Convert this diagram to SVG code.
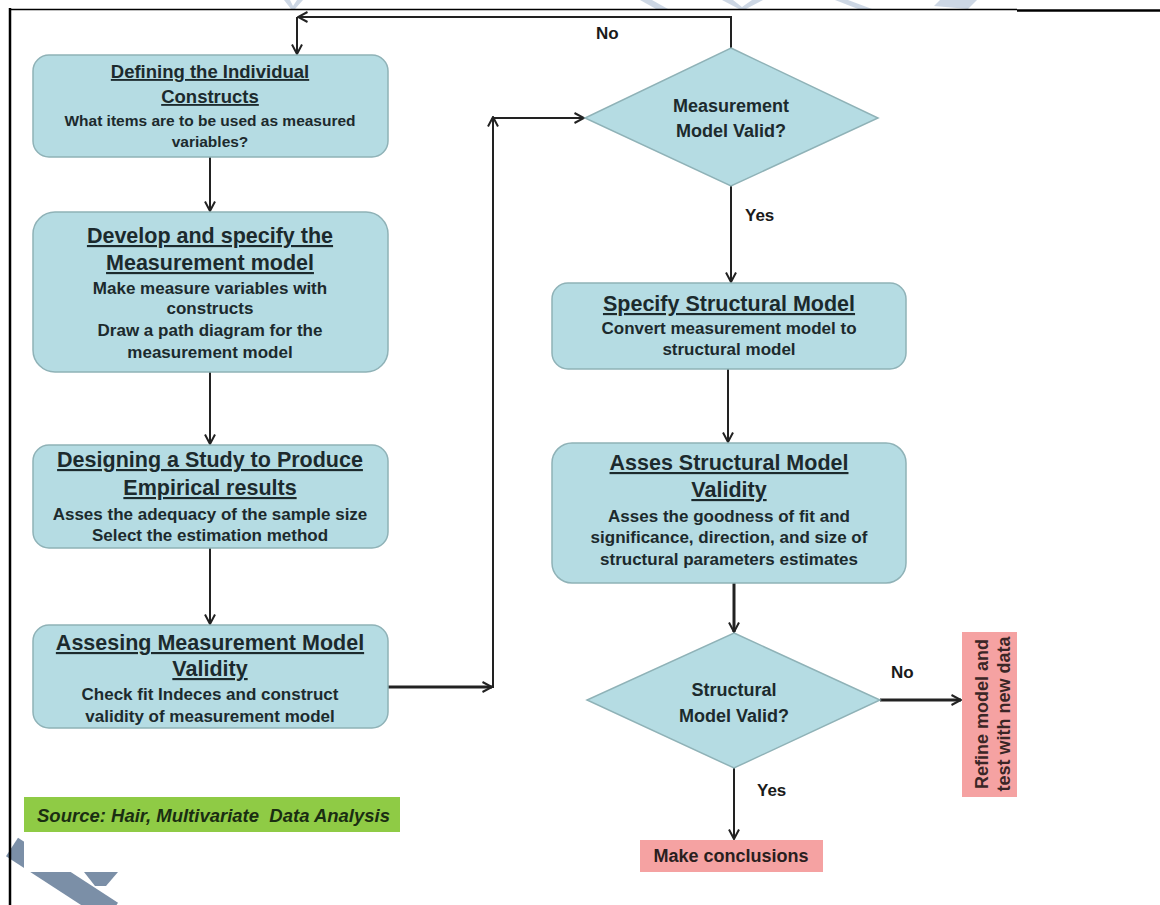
<svg xmlns="http://www.w3.org/2000/svg" width="1160" height="905" viewBox="0 0 1160 905">
<style>
.box{fill:#b5dce3;stroke:#8fb2b7;stroke-width:1.5}
.red{fill:#f5a2a2}
.t{font-family:"Liberation Sans",Arial,sans-serif;font-weight:bold;fill:#1c2a2d;text-anchor:middle}
.h{font-size:21.5px;text-decoration:underline}
.s{font-size:17px}
.d{font-size:18px}
.lbl{font-family:"Liberation Sans",Arial,sans-serif;font-weight:bold;fill:#1a1a1a;font-size:17px}
.c{fill:none;stroke:#222;stroke-width:2}
.ck{fill:none;stroke:#222;stroke-width:3}
.wm{fill:#bccadb;opacity:0.75}
</style>
<defs>
<marker id="ah" viewBox="0 0 12 12" refX="10.5" refY="6" markerWidth="12" markerHeight="12" markerUnits="userSpaceOnUse" orient="auto">
<path d="M1,1 L10.5,6 L1,11" fill="none" stroke="#222" stroke-width="2"/>
</marker>
</defs>
<rect width="1160" height="905" fill="#ffffff"/>

<g id="watermark">
<polygon class="wm" points="284,0 290,0 293,6 297,0 303,0 295,9 291,9"/>
<polygon class="wm" points="640,0 652,0 668,9 656,9"/>
<polygon class="wm" points="722,0 733,0 742,7 752,0 763,0 746,9 739,9"/>
<polygon class="wm" points="835,0 848,0 872,9 858,9"/>
<polygon class="wm" points="940,0 977,0 968,9 934,6"/>
<line x1="12" y1="847" x2="112" y2="912" stroke="#7b8fa7" stroke-width="22"/>
<rect x="24" y="833" width="110" height="39" fill="#ffffff"/>
<polygon points="84,872 118,872 106,886 95,886" fill="#7b8fa7"/>
</g>

<g id="frame">
<line x1="10" y1="8" x2="10" y2="905" stroke="#000" stroke-width="2.5"/>
<line x1="9" y1="9.5" x2="1017" y2="9.5" stroke="#000" stroke-width="1.5"/>
<line x1="1017" y1="10.5" x2="1160" y2="10.5" stroke="#000" stroke-width="2.5"/>
</g>

<g id="connectors">
<line class="c" x1="210" y1="157" x2="210" y2="211" marker-end="url(#ah)"/>
<line class="c" x1="210" y1="372" x2="210" y2="444" marker-end="url(#ah)"/>
<line class="c" x1="210" y1="548" x2="210" y2="624" marker-end="url(#ah)"/>
<line class="ck" x1="388" y1="687" x2="492" y2="687" marker-end="url(#ah)"/>
<line class="c" x1="493" y1="688" x2="493" y2="117" marker-end="url(#ah)"/>
<line class="c" x1="493" y1="118" x2="584" y2="118" marker-end="url(#ah)"/>
<polyline class="c" points="731,48 731,17 298,17" marker-end="url(#ah)"/>
<line class="c" x1="297" y1="17" x2="297" y2="54" marker-end="url(#ah)"/>
<line class="c" x1="731" y1="186" x2="731" y2="282" marker-end="url(#ah)"/>
<line class="c" x1="728" y1="369" x2="728" y2="442" marker-end="url(#ah)"/>
<line class="ck" x1="734" y1="583" x2="734" y2="632" marker-end="url(#ah)"/>
<line class="ck" x1="880" y1="700" x2="961" y2="700" marker-end="url(#ah)"/>
<line class="c" x1="734" y1="768" x2="734" y2="839" marker-end="url(#ah)"/>
<text class="lbl" x="596" y="39">No</text>
<text class="lbl" x="745" y="221">Yes</text>
<text class="lbl" x="891" y="678">No</text>
<text class="lbl" x="757" y="796">Yes</text>
</g>

<g id="n1">
<rect class="box" x="33" y="55" width="355" height="102" rx="16"/>
<text class="t" x="210" y="78" style="font-size:18.5px;text-decoration:underline">Defining the Individual</text>
<text class="t" x="210" y="103" style="font-size:18.5px;text-decoration:underline">Constructs</text>
<text class="t" x="210" y="126" style="font-size:15.5px">What items are to be used as measured</text>
<text class="t" x="210" y="147" style="font-size:15.5px">variables?</text>
</g>

<g id="n2">
<rect class="box" x="33" y="212" width="355" height="160" rx="22"/>
<text class="t h" x="210" y="243">Develop and specify the</text>
<text class="t h" x="210" y="270">Measurement model</text>
<text class="t s" x="210" y="294">Make measure variables with</text>
<text class="t s" x="210" y="314">constructs</text>
<text class="t s" x="210" y="336">Draw a path diagram for the</text>
<text class="t s" x="210" y="358">measurement model</text>
</g>

<g id="n3">
<rect class="box" x="33" y="445" width="355" height="103" rx="16"/>
<text class="t h" x="210" y="467">Designing a Study to Produce</text>
<text class="t h" x="210" y="495">Empirical results</text>
<text class="t s" x="210" y="520">Asses the adequacy of the sample size</text>
<text class="t s" x="210" y="541">Select the estimation method</text>
</g>

<g id="n4">
<rect class="box" x="33" y="625" width="355" height="103" rx="16"/>
<text class="t h" x="210" y="650">Assesing Measurement Model</text>
<text class="t h" x="210" y="676">Validity</text>
<text class="t s" x="210" y="700">Check fit Indeces and construct</text>
<text class="t s" x="210" y="722">validity of measurement model</text>
</g>

<g id="d1">
<polygon class="box" points="731,48 878,118 731,186 585,118"/>
<text class="t d" x="731" y="112">Measurement</text>
<text class="t d" x="731" y="137">Model Valid?</text>
</g>

<g id="n5">
<rect class="box" x="552" y="283" width="354" height="86" rx="16"/>
<text class="t h" x="729" y="311">Specify Structural Model</text>
<text class="t s" x="729" y="334">Convert measurement model to</text>
<text class="t s" x="729" y="355">structural model</text>
</g>

<g id="n6">
<rect class="box" x="552" y="443" width="354" height="140" rx="20"/>
<text class="t h" x="729" y="470">Asses Structural Model</text>
<text class="t h" x="729" y="497">Validity</text>
<text class="t s" x="729" y="522">Asses the goodness of fit and</text>
<text class="t s" x="729" y="543">significance, direction, and size of</text>
<text class="t s" x="729" y="565">structural parameters estimates</text>
</g>

<g id="d2">
<polygon class="box" points="734,633 880,700 734,768 587,700"/>
<text class="t d" x="734" y="696">Structural</text>
<text class="t d" x="734" y="722">Model Valid?</text>
</g>

<g id="refine">
<rect class="red" x="962" y="632" width="55" height="165"/>
<text class="t" style="font-size:18px;fill:#3a2626" transform="translate(988,714) rotate(-90)">Refine model and</text>
<text class="t" style="font-size:18px;fill:#3a2626" transform="translate(1010,714) rotate(-90)">test with new data</text>
</g>

<g id="conclusions">
<rect class="red" x="640" y="840" width="183" height="32"/>
<text class="t" style="font-size:18px;fill:#2a1e1e" x="731" y="862">Make conclusions</text>
</g>

<g id="source">
<rect x="24" y="797" width="376" height="35" fill="#8fcb45"/>
<text x="37" y="822" style="font-family:'Liberation Sans',Arial,sans-serif;font-weight:bold;font-style:italic;font-size:18.5px;fill:#1a2e12;white-space:pre">Source: Hair, Multivariate  Data Analysis</text>
</g>
</svg>
